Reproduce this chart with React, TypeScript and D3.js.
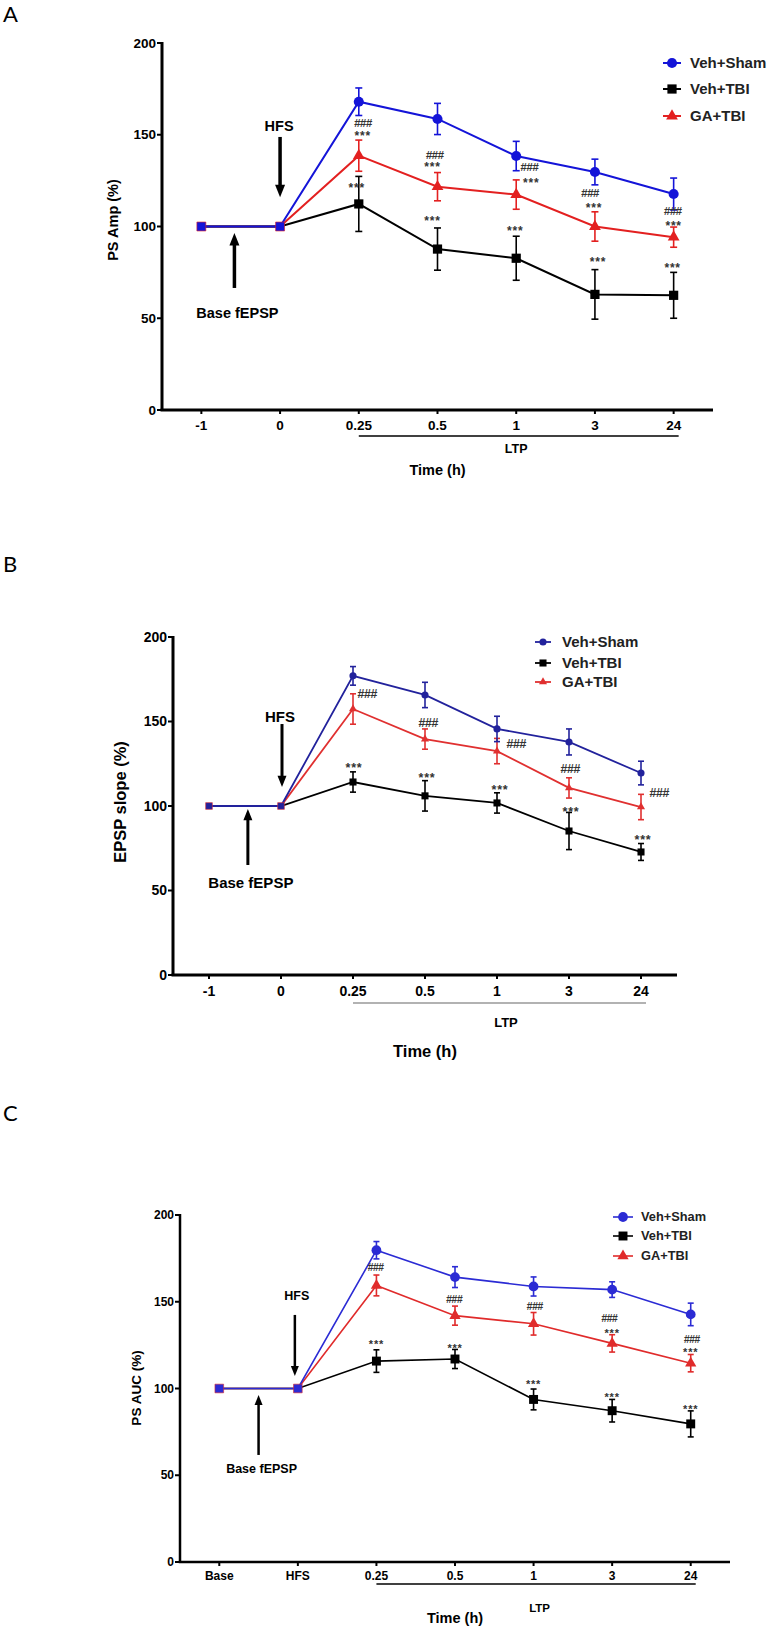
import React from 'react';
import * as d3 from 'd3';

// x categories
const timeLabels = ['-1', '0', '0.25', '0.5', '1', '3', '24'];
const timeLabelsC = ['Base', 'HFS', '0.25', '0.5', '1', '3', '24'];
const groupNames = ['Veh+Sham', 'Veh+TBI', 'GA+TBI'];
const yTicks = [0, 50, 100, 150, 200];

// A: PS amplitude (%)
const shamA = [100, 100, 168, 158.6, 138.4, 129.7, 117.7];
const shamAErr = [0, 0, 7.5, 8.5, 8, 7, 8.7];
const tbiA = [100, 100, 112.3, 87.7, 82.7, 63, 62.5];
const tbiAErr = [0, 0, 15, 11.5, 12, 13.5, 12.5];
const gaA = [100, 100, 138.6, 121.7, 117.4, 100, 94.2];
const gaAErr = [0, 0, 8.5, 7.7, 8, 8, 5.5];

// B: EPSP slope (%)
const shamB = [100, 100, 177, 165.7, 145.6, 137.9, 119.5];
const shamBErr = [0, 0, 5.5, 7.5, 7.5, 7.7, 7];
const tbiB = [100, 100, 114.2, 106, 101.8, 85.2, 72.8];
const tbiBErr = [0, 0, 6, 9, 6, 11, 5];
const gaB = [100, 100, 157.4, 139.6, 132.5, 110.7, 99.4];
const gaBErr = [0, 0, 9, 6, 7.5, 6, 7.5];

// C: PS AUC (%)
const shamC = [100, 100, 179.7, 164.2, 158.8, 157, 142.7];
const shamCErr = [0, 0, 5, 6, 5.5, 4.5, 6.5];
const tbiC = [100, 100, 115.8, 117, 93.7, 87.2, 79.6];
const tbiCErr = [0, 0, 6.5, 5.5, 6, 6.5, 7.5];
const gaC = [100, 100, 159.4, 142, 137.3, 126, 114.6];
const gaCErr = [0, 0, 6, 5.5, 6.5, 5, 5];

// significance marks (value = where the mark sits), for points 0.25 .. 24
const hashA = [156.6, 139.2, 132.6, 118.5, 108.6];
const redStarA = [151.3, 134.4, 125.7, 112.1, 102.3];
const blackStarA = [122.6, 104.6, 99.2, 82.8, 79];
const hashB = [166.3, 149.7, 136.7, 121.9, 107.7];
const blackStarB = [124.9, 118.9, 111.8, 98.8, 82.2];
const hashC = [169.8, 151.2, 147.3, 140.3, 128.6];
const redStarC = [null, null, null, 133.7, 122.4];
const blackStarC = [127.4, 125, 104.5, 96.5, 90];

const FONT = "'Liberation Sans', Arial, Helvetica, sans-serif";

function Arrow({ x, y1, y2, shaft, head }: any) {
  // arrow from y1 to y2, head at y2
  const dir = y2 > y1 ? 1 : -1;
  const hl = head * 1.25;
  return (
    <g>
      <line x1={x} x2={x} y1={y1} y2={y2 - dir * hl * 0.8} stroke="#000" strokeWidth={shaft} />
      <path d={`M${x - head / 2},${y2 - dir * hl} L${x + head / 2},${y2 - dir * hl} L${x},${y2} Z`} fill="#000" />
    </g>
  );
}

function Panel({ cfg }: any) {
  const x = d3.scalePoint<string>().domain(cfg.labels).range([cfg.left, cfg.right]).padding(0.5);
  const y = d3.scaleLinear().domain([0, 200]).range([cfg.bottom, cfg.top]);
  const xi = (i: number) => x(cfg.labels[i]) as number;
  const line = d3.line<number>().x((d, i) => xi(i)).y(d => y(d));
  const sym = (type: any, size: number) => d3.symbol().type(type).size(size)() as string;
  const order = [2, 1, 0];

  const marks: any[] = [];
  cfg.marks.forEach((m: any) => {
    m.values.forEach((v: any, k: number) => {
      if (v == null) return;
      marks.push({ text: m.text, x: xi(k + 2) + (m.dx ? m.dx[k] : 0), y: y(v), size: m.size });
    });
  });

  return (
    <g fontFamily={FONT}>
      <text x={3} y={cfg.letterY} fontFamily="Lato, 'Open Sans', sans-serif" fontSize={22}>{cfg.letter}</text>

      {/* axes */}
      <line x1={cfg.left} x2={cfg.left} y1={y(200) - 1} y2={y(0)} stroke="#000" strokeWidth={cfg.axisW} />
      <line x1={cfg.left - cfg.axisW / 2} x2={cfg.right} y1={y(0)} y2={y(0)} stroke="#000" strokeWidth={cfg.axisW} />
      {yTicks.map(t => (
        <g key={t}>
          <line x1={cfg.left - 5} x2={cfg.left} y1={y(t)} y2={y(t)} stroke="#000" strokeWidth={2} />
          <text x={cfg.left - 6} y={y(t)} dy="0.35em" textAnchor="end" fontSize={cfg.tickFont} fontWeight="bold">{t}</text>
        </g>
      ))}
      {cfg.labels.map((l: string, i: number) => (
        <g key={l}>
          <line x1={xi(i)} x2={xi(i)} y1={y(0)} y2={y(0) + 4} stroke="#000" strokeWidth={2} />
          <text x={xi(i)} y={y(0) + cfg.tickDy} dy="0.35em" textAnchor="middle" fontSize={cfg.tickFont} fontWeight="bold">{l}</text>
        </g>
      ))}
      <text transform={`translate(${cfg.yLabelX},${cfg.yLabelY}) rotate(-90)`} textAnchor="middle" dy="0.35em"
        fontSize={cfg.yLabelFont} fontWeight="bold">{cfg.yLabel}</text>

      {/* LTP bracket and x title */}
      <line x1={xi(2)} x2={xi(6) + 5} y1={y(0) + cfg.ltpDy} y2={y(0) + cfg.ltpDy} stroke={cfg.ltpColor} strokeWidth={1.3} />
      <text x={xi(4) + cfg.ltpDx} y={y(0) + cfg.ltpTextDy} dy="0.35em" textAnchor="middle" fontSize={cfg.ltpFont} fontWeight="bold">LTP</text>
      <text x={xi(3)} y={y(0) + cfg.timeDy} dy="0.35em" textAnchor="middle" fontSize={cfg.timeFont} fontWeight="bold">Time (h)</text>

      {/* HFS and base arrows */}
      <text x={xi(1) - 1} y={y(cfg.hfsText)} dy="0.35em" textAnchor="middle" fontSize={cfg.annFont} fontWeight="bold">HFS</text>
      <Arrow x={xi(1) + cfg.hfsDx} y1={y(cfg.hfsArrow[0])} y2={y(cfg.hfsArrow[1])} shaft={cfg.arrowW} head={cfg.arrowHead} />
      <Arrow x={xi(0) + (xi(1) - xi(0)) * cfg.baseFrac} y1={y(cfg.baseArrow[0])} y2={y(cfg.baseArrow[1])} shaft={cfg.arrowW} head={cfg.arrowHead} />
      <text x={xi(0) + (xi(1) - xi(0)) * cfg.baseFrac + 3} y={y(cfg.baseText)} dy="0.35em" textAnchor="middle" fontSize={cfg.annFont} fontWeight="bold">Base fEPSP</text>

      {/* error bars */}
      {order.map(s => {
        const sr = cfg.series[s];
        return sr.values.map((v: number, i: number) => sr.errs[i] > 0 ? (
          <g key={`e${s}-${i}`} stroke={sr.color} strokeWidth={1.6}>
            <line x1={xi(i)} x2={xi(i)} y1={y(v - sr.errs[i])} y2={y(v + sr.errs[i])} />
            <line x1={xi(i) - cfg.cap} x2={xi(i) + cfg.cap} y1={y(v - sr.errs[i])} y2={y(v - sr.errs[i])} />
            <line x1={xi(i) - cfg.cap} x2={xi(i) + cfg.cap} y1={y(v + sr.errs[i])} y2={y(v + sr.errs[i])} />
          </g>
        ) : null);
      })}

      {/* lines */}
      {order.map(s => {
        const sr = cfg.series[s];
        return <path key={`l${s}`} d={line(sr.values) as string} fill="none" stroke={sr.color} strokeWidth={cfg.lineW} />;
      })}

      {/* markers */}
      {order.map(s => {
        const sr = cfg.series[s];
        return sr.values.map((v: number, i: number) => i < 2 ? null : (
          <path key={`m${s}-${i}`} d={sym(sr.symbol, sr.size)} transform={`translate(${xi(i)},${y(v)})`} fill={sr.color} />
        ));
      })}
      {[0, 1].map(i => (
        <path key={`b${i}`} d={sym(d3.symbolSquare, cfg.baseSize)} transform={`translate(${xi(i)},${y(cfg.series[0].values[i])})`}
          fill={cfg.series[0].color} stroke={cfg.series[2].color} strokeWidth={0.6} />
      ))}

      {/* significance */}
      {marks.map((m, k) => (
        <text key={`s${k}`} x={m.x} y={m.y} dy={m.text === '***' ? '0.62em' : '0.36em'} textAnchor="middle" fontSize={m.size}
          fontWeight="bold" fill="#333" letterSpacing={m.text === '***' ? 0.8 : -0.5}
          fontStyle={m.text === '###' ? 'italic' : 'normal'}>{m.text}</text>
      ))}

      {/* legend */}
      {cfg.series.map((sr: any, k: number) => (
        <g key={`lg${k}`} transform={`translate(${cfg.legX},${cfg.legY[k]})`}>
          <line x1={-cfg.legHalf} x2={cfg.legHalf} y1={0} y2={0} stroke={sr.color} strokeWidth={cfg.lineW} />
          <path d={sym(sr.symbol, sr.size)} fill={sr.color} />
          <text x={cfg.legTextDx} y={0} dy="0.35em" fontSize={cfg.legFont} fontWeight="bold" fill="#222">{groupNames[k]}</text>
        </g>
      ))}
    </g>
  );
}

const panelA = {
  letter: 'A', letterY: 22, labels: timeLabels, left: 162, right: 713, top: 43, bottom: 410,
  axisW: 3, tickFont: 13.5, tickDy: 15, yLabel: 'PS Amp (%)', yLabelX: 113, yLabelY: 220, yLabelFont: 14.5,
  ltpDy: 26, ltpColor: '#000', ltpDx: 0, ltpTextDy: 39, ltpFont: 12.5, timeDy: 60, timeFont: 14.5,
  annFont: 14.5, hfsText: 155, hfsDx: 0, hfsArrow: [148.8, 116], baseFrac: 0.42, baseArrow: [66.5, 96.5], baseText: 53,
  arrowW: 3.5, arrowHead: 10, lineW: 2, cap: 3.5, baseSize: 80,
  series: [
    { color: '#1414d8', symbol: d3.symbolCircle, size: 80, values: shamA, errs: shamAErr },
    { color: '#000000', symbol: d3.symbolSquare, size: 85, values: tbiA, errs: tbiAErr },
    { color: '#e32020', symbol: d3.symbolTriangle, size: 60, values: gaA, errs: gaAErr },
  ],
  marks: [
    { text: '###', values: hashA, dx: [4, -3, 13, -5, -1], size: 11.5 },
    { text: '***', values: redStarA, dx: [4, -5, 15, -1, 0], size: 12 },
    { text: '***', values: blackStarA, dx: [-2, -5, -1, 3, -1], size: 12 },
  ],
  legX: 672, legY: [63, 89, 116], legHalf: 9, legTextDx: 18, legFont: 15,
};

const panelB = {
  letter: 'B', letterY: 572, labels: timeLabels, left: 173, right: 677, top: 637, bottom: 975,
  axisW: 3, tickFont: 14, tickDy: 16, yLabel: 'EPSP slope (%)', yLabelX: 120, yLabelY: 802, yLabelFont: 16.5,
  ltpDy: 28, ltpColor: '#999', ltpDx: 9, ltpTextDy: 47, ltpFont: 13, timeDy: 76, timeFont: 16.5,
  annFont: 15, hfsText: 152.7, hfsDx: 1, hfsArrow: [148.5, 111.2], baseFrac: 0.54, baseArrow: [65.1, 98.2], baseText: 54.4,
  arrowW: 3, arrowHead: 9, lineW: 1.8, cap: 3, baseSize: 45,
  series: [
    { color: '#22229c', symbol: d3.symbolCircle, size: 40, values: shamB, errs: shamBErr },
    { color: '#000000', symbol: d3.symbolSquare, size: 50, values: tbiB, errs: tbiBErr },
    { color: '#e03030', symbol: d3.symbolTriangle, size: 28, values: gaB, errs: gaBErr },
  ],
  marks: [
    { text: '###', values: hashB, dx: [14, 3, 19, 1, 18], size: 12.5 },
    { text: '***', values: blackStarB, dx: [1, 2, 3, 2, 2], size: 12.5 },
  ],
  legX: 543, legY: [642, 663, 682], legHalf: 8, legTextDx: 19, legFont: 15,
};

const panelC = {
  letter: 'C', letterY: 1121, labels: timeLabelsC, left: 180, right: 730, top: 1215, bottom: 1562,
  axisW: 2.5, tickFont: 12, tickDy: 14, yLabel: 'PS AUC (%)', yLabelX: 136, yLabelY: 1388, yLabelFont: 13.5,
  ltpDy: 22, ltpColor: '#000', ltpDx: 6, ltpTextDy: 46, ltpFont: 11.5, timeDy: 56, timeFont: 14.5,
  annFont: 12.5, hfsText: 153.3, hfsDx: -3, hfsArrow: [142.4, 107.2], baseFrac: 0.5, baseArrow: [61.7, 96.3], baseText: 53.6,
  arrowW: 2.5, arrowHead: 8, lineW: 1.6, cap: 3, baseSize: 75,
  series: [
    { color: '#2b2bd4', symbol: d3.symbolCircle, size: 75, values: shamC, errs: shamCErr },
    { color: '#000000', symbol: d3.symbolSquare, size: 80, values: tbiC, errs: tbiCErr },
    { color: '#e02b2b', symbol: d3.symbolTriangle, size: 55, values: gaC, errs: gaCErr },
  ],
  marks: [
    { text: '###', values: hashC, dx: [-1, -1, 1, -3, 1], size: 10.5 },
    { text: '***', values: redStarC, dx: [0, 0, 0, 0, 0], size: 11 },
    { text: '***', values: blackStarC, dx: [0, 0, 0, 0, 0], size: 11 },
  ],
  legX: 623, legY: [1217, 1236, 1256], legHalf: 10, legTextDx: 18, legFont: 12.8,
};

export default function App() {
  return (
    <svg width={773} height={1627} style={{ position: 'absolute', left: 0, top: 0, background: '#fff' }}>
      <rect width={773} height={1627} fill="#fff" />
      <Panel cfg={panelA} />
      <Panel cfg={panelB} />
      <Panel cfg={panelC} />
    </svg>
  );
}
